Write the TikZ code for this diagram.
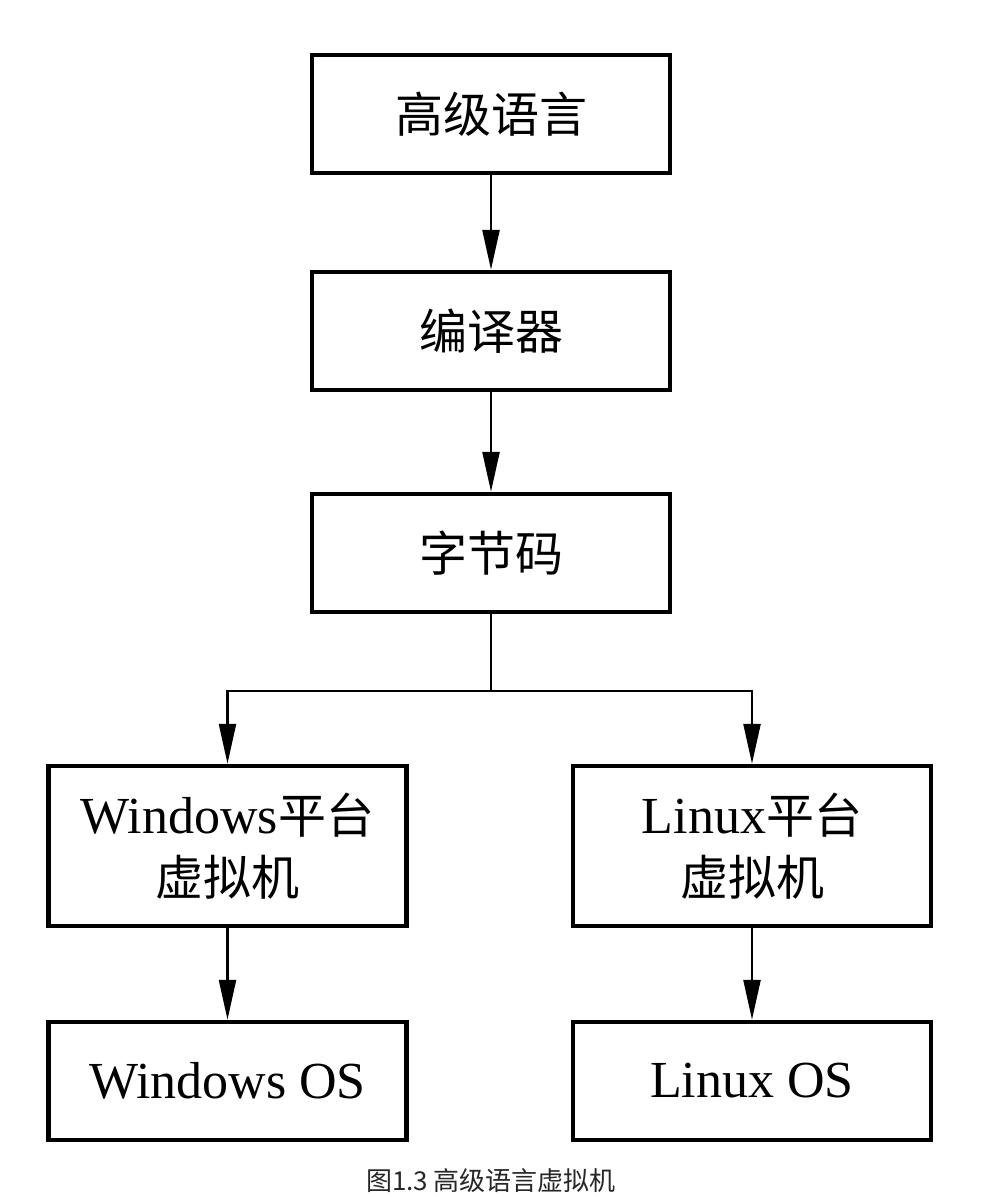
\documentclass[tikz,border=0pt]{standalone}
\usepackage{fontspec}
\setmainfont{Liberation Serif}
\newfontfamily\cjk{Noto Sans CJK SC}
\usetikzlibrary{arrows.meta}
\newcommand{\zh}[1]{{\cjk\fontsize{48}{58}\selectfont #1}}
\begin{document}
\begin{tikzpicture}[x=1pt,y=-1pt,
  box/.style={draw,line width=4.5pt,minimum width=358pt,minimum height=118pt,inner sep=0pt,align=center,font=\fontsize{52}{58}\selectfont},
  tallbox/.style={box,minimum height=160pt},
  conn/.style={line width=2.5pt},
  arr/.style={conn,-{Triangle[length=40pt,width=17pt]}}]
\useasboundingbox (0,0) rectangle (995,1197);
\fill[white] (0,0) rectangle (995,1197);
\node[box] (b1) at (491,114) {\zh{高级语言}};
\node[box] (b2) at (491,331) {\zh{编译器}};
\node[box] (b3) at (491,553) {\zh{字节码}};
\node[tallbox] (b4) at (227.5,846) {Windows\zh{平台}\\[4pt]\zh{虚拟机}};
\node[tallbox] (b6) at (752,846) {Linux\zh{平台}\\[4pt]\zh{虚拟机}};
\node[box] (b5) at (227.5,1081) {Windows OS};
\node[box] (b7) at (752,1081) {Linux OS};
\coordinate (split) at (491,691);
\node[font=\cjk\fontsize{26}{30}\selectfont,text=black!85] (cap) at (491,1181) {图1.3 高级语言虚拟机};
\draw[arr] (b1) -- (b2);
\draw[arr] (b2) -- (b3);
\draw[conn] (b3) -- (split);
\draw[arr] (split) -| (b4);
\draw[arr] (split) -| (b6);
\draw[arr] (b4) -- (b5);
\draw[arr] (b6) -- (b7);
\end{tikzpicture}
\end{document}
